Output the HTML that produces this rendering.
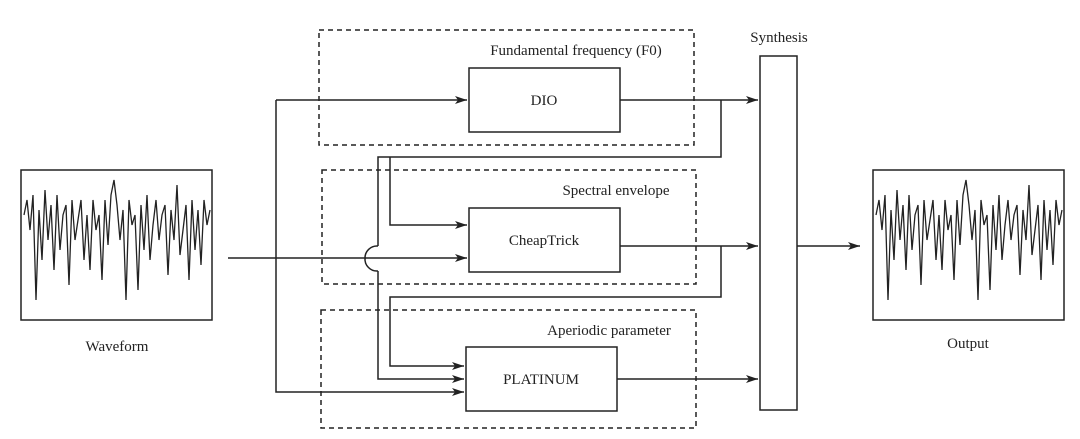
<!DOCTYPE html>
<html><head><meta charset="utf-8"><style>
body{margin:0;background:#fff}
svg text{font-family:"Liberation Serif",serif;font-size:15px;fill:#222}
</style></head><body>
<svg width="1080" height="434" viewBox="0 0 1080 434" xmlns="http://www.w3.org/2000/svg">
<defs><marker id="a" viewBox="0 0 12 8" refX="12" refY="4" markerWidth="12" markerHeight="8" orient="auto" markerUnits="userSpaceOnUse"><path d="M0,0 L12,4 L0,8 L3,4z" fill="#222"/></marker></defs>
<g fill="none" stroke="#222" stroke-width="1.5">
<g stroke-dasharray="5,4">
<rect x="319" y="30" width="375" height="115"/>
<rect x="322" y="170" width="374" height="114"/>
<rect x="321" y="310" width="375" height="118"/>
</g>
<rect x="469" y="68" width="151" height="64"/>
<rect x="469" y="208" width="151" height="64"/>
<rect x="466" y="347" width="151" height="64"/>
<rect x="760" y="56" width="37" height="354"/>
<rect x="21" y="170" width="191" height="150"/>
<rect x="873" y="170" width="191" height="150"/>
<path d="M276,100 H467" marker-end="url(#a)"/>
<path d="M276,100 V392 H464" marker-end="url(#a)"/>
<path d="M228,258 H365 A12,12 0 0 1 378,246" />
<path d="M365,258 H467" marker-end="url(#a)"/>
<path d="M620,100 H758" marker-end="url(#a)"/>
<path d="M721,100 V157 H378 V246 M378,271 V379 H464" marker-end="url(#a)"/>
<path d="M378,271 A12,12 0 0 1 365,258"/>
<path d="M390,157 V225 H467" marker-end="url(#a)"/>
<path d="M620,246 H758" marker-end="url(#a)"/>
<path d="M721,246 V297 H390 V366 H464" marker-end="url(#a)"/>
<path d="M617,379 H758" marker-end="url(#a)"/>
<path d="M797,246 H860" marker-end="url(#a)"/>
<polyline stroke-width="1.3" points="24,215 27,200 30,230 33,195 36,300 39,210 42,260 45,190 48,240 51,205 54,270 57,195 60,250 63,215 66,205 69,285 72,200 75,240 78,220 81,200 84,260 87,215 90,270 93,200 96,230 99,215 102,280 105,200 108,245 111,195 114,180 117,205 120,240 123,210 126,300 129,200 132,225 135,215 138,290 141,205 144,250 147,195 150,260 153,225 156,200 159,240 162,215 165,205 168,275 171,210 174,240 177,185 180,255 183,230 186,205 189,280 192,200 195,250 198,210 201,265 204,200 207,225 210,210"/>
<polyline stroke-width="1.3" transform="translate(852,0)" points="24,215 27,200 30,230 33,195 36,300 39,210 42,260 45,190 48,240 51,205 54,270 57,195 60,250 63,215 66,205 69,285 72,200 75,240 78,220 81,200 84,260 87,215 90,270 93,200 96,230 99,215 102,280 105,200 108,245 111,195 114,180 117,205 120,240 123,210 126,300 129,200 132,225 135,215 138,290 141,205 144,250 147,195 150,260 153,225 156,200 159,240 162,215 165,205 168,275 171,210 174,240 177,185 180,255 183,230 186,205 189,280 192,200 195,250 198,210 201,265 204,200 207,225 210,210"/>
</g>
<text x="544" y="105" text-anchor="middle">DIO</text>
<text x="544" y="245" text-anchor="middle">CheapTrick</text>
<text x="541" y="384" text-anchor="middle">PLATINUM</text>
<text x="576" y="55" text-anchor="middle">Fundamental frequency (F0)</text>
<text x="616" y="195" text-anchor="middle">Spectral envelope</text>
<text x="609" y="335" text-anchor="middle">Aperiodic parameter</text>
<text x="779" y="42" text-anchor="middle">Synthesis</text>
<text x="117" y="351" text-anchor="middle">Waveform</text>
<text x="968" y="348" text-anchor="middle">Output</text>
</svg>
</body></html>
